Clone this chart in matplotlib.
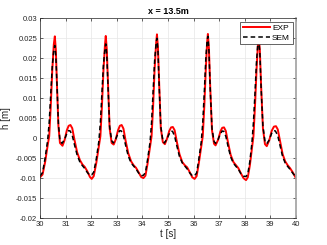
import numpy as np
import matplotlib.pyplot as plt

t_exp = [30.00, 30.10, 30.20, 30.30, 30.36, 30.42, 30.48, 30.54, 30.58, 30.62, 30.66, 30.72, 30.78, 30.88, 30.96,
         31.05, 31.12, 31.19, 31.26, 31.35, 31.45, 31.56, 31.66, 31.75, 31.85, 31.95,
         32.02, 32.10, 32.20, 32.30, 32.36, 32.42, 32.48, 32.54, 32.57, 32.61, 32.66, 32.72, 32.80, 32.88, 32.96,
         33.05, 33.12, 33.19, 33.26, 33.35, 33.45, 33.56, 33.66, 33.75, 33.85, 33.95,
         34.04, 34.12, 34.20, 34.30, 34.36, 34.42, 34.48, 34.54, 34.57, 34.61, 34.66, 34.72, 34.80, 34.88, 34.96,
         35.05, 35.12, 35.19, 35.26, 35.35, 35.45, 35.56, 35.66, 35.75, 35.85, 35.95,
         36.04, 36.12, 36.20, 36.30, 36.36, 36.42, 36.48, 36.53, 36.56, 36.60, 36.65, 36.72, 36.80, 36.86, 36.96,
         37.05, 37.12, 37.19, 37.26, 37.35, 37.45, 37.56, 37.66, 37.75, 37.85, 37.95,
         38.05, 38.12, 38.20, 38.28, 38.34, 38.40, 38.46, 38.51, 38.55, 38.59, 38.64, 38.71, 38.79, 38.86, 38.96,
         39.05, 39.14, 39.22, 39.29, 39.38, 39.48, 39.58, 39.68, 39.77, 39.88, 40.00]
h_exp = [-0.0098, -0.0091, -0.0060, -0.0018, 0.0005, 0.0080, 0.0170, 0.0235, 0.0255, 0.0220, 0.0140, 0.0030, -0.0012, -0.0019, -0.0005,
         0.0020, 0.0031, 0.0033, 0.0025, -0.0005, -0.0035, -0.0055, -0.0066, -0.0072, -0.0083, -0.0097,
         -0.0102, -0.0095, -0.0062, -0.0020, 0.0005, 0.0080, 0.0170, 0.0235, 0.0256, 0.0222, 0.0130, 0.0025, -0.0012, -0.0016, -0.0003,
         0.0020, 0.0031, 0.0033, 0.0024, -0.0008, -0.0038, -0.0058, -0.0068, -0.0074, -0.0085, -0.0097,
         -0.0100, -0.0094, -0.0065, -0.0022, 0.0005, 0.0080, 0.0175, 0.0240, 0.0260, 0.0225, 0.0130, 0.0025, -0.0010, -0.0015, -0.0002,
         0.0018, 0.0027, 0.0028, 0.0020, -0.0010, -0.0040, -0.0060, -0.0068, -0.0073, -0.0085, -0.0098,
         -0.0102, -0.0095, -0.0065, -0.0022, 0.0005, 0.0080, 0.0175, 0.0240, 0.0261, 0.0225, 0.0130, 0.0020, -0.0014, -0.0018, -0.0004,
         0.0017, 0.0026, 0.0027, 0.0018, -0.0012, -0.0042, -0.0060, -0.0068, -0.0075, -0.0088, -0.0100,
         -0.0105, -0.0098, -0.0068, -0.0025, 0.0005, 0.0080, 0.0170, 0.0230, 0.0250, 0.0220, 0.0130, 0.0025, -0.0015, -0.0020, -0.0005,
         0.0018, 0.0029, 0.0030, 0.0022, -0.0008, -0.0040, -0.0058, -0.0068, -0.0075, -0.0086, -0.0100]

# SEM model result
t_sem = [30.00, 30.10, 30.20, 30.30, 30.36, 30.42, 30.48, 30.54, 30.58, 30.62, 30.66, 30.72, 30.78, 30.86, 30.96,
         31.05, 31.12, 31.18, 31.26, 31.35, 31.45, 31.56, 31.66, 31.75, 31.85, 31.95,
         32.02, 32.10, 32.20, 32.30, 32.36, 32.42, 32.48, 32.54, 32.57, 32.61, 32.66, 32.72, 32.80, 32.86, 32.96,
         33.05, 33.12, 33.18, 33.26, 33.35, 33.45, 33.56, 33.66, 33.75, 33.85, 33.95,
         34.04, 34.12, 34.20, 34.30, 34.36, 34.42, 34.48, 34.54, 34.57, 34.61, 34.66, 34.72, 34.80, 34.86, 34.96,
         35.05, 35.12, 35.18, 35.26, 35.35, 35.45, 35.56, 35.66, 35.75, 35.85, 35.95,
         36.04, 36.12, 36.20, 36.30, 36.36, 36.42, 36.48, 36.53, 36.56, 36.60, 36.65, 36.72, 36.80, 36.86, 36.96,
         37.05, 37.12, 37.18, 37.26, 37.35, 37.45, 37.56, 37.66, 37.75, 37.85, 37.95,
         38.05, 38.12, 38.20, 38.28, 38.34, 38.40, 38.46, 38.51, 38.55, 38.59, 38.64, 38.71, 38.79, 38.86, 38.96,
         39.05, 39.14, 39.20, 39.29, 39.38, 39.48, 39.58, 39.68, 39.77, 39.88, 40.00]
h_sem = [-0.0095, -0.0086, -0.0050, -0.0005, 0.0040, 0.0110, 0.0180, 0.0222, 0.0232, 0.0205, 0.0140, 0.0035, -0.0005, -0.0013, -0.0003,
         0.0012, 0.0019, 0.0018, 0.0007, -0.0017, -0.0042, -0.0060, -0.0069, -0.0076, -0.0086, -0.0093,
         -0.0092, -0.0085, -0.0052, -0.0008, 0.0040, 0.0112, 0.0185, 0.0225, 0.0236, 0.0208, 0.0125, 0.0030, -0.0006, -0.0012, -0.0002,
         0.0012, 0.0019, 0.0018, 0.0006, -0.0019, -0.0045, -0.0062, -0.0070, -0.0077, -0.0087, -0.0094,
         -0.0093, -0.0086, -0.0055, -0.0010, 0.0040, 0.0115, 0.0195, 0.0240, 0.0250, 0.0218, 0.0125, 0.0030, -0.0006, -0.0012, -0.0002,
         0.0011, 0.0018, 0.0017, 0.0005, -0.0020, -0.0046, -0.0062, -0.0070, -0.0077, -0.0087, -0.0094,
         -0.0094, -0.0087, -0.0055, -0.0010, 0.0040, 0.0115, 0.0200, 0.0245, 0.0255, 0.0220, 0.0125, 0.0025, -0.0008, -0.0013, -0.0003,
         0.0011, 0.0018, 0.0017, 0.0005, -0.0021, -0.0047, -0.0063, -0.0071, -0.0078, -0.0089, -0.0095,
         -0.0096, -0.0089, -0.0058, -0.0012, 0.0040, 0.0112, 0.0192, 0.0235, 0.0245, 0.0215, 0.0125, 0.0030, -0.0008, -0.0014, -0.0004,
         0.0012, 0.0019, 0.0018, 0.0006, -0.0019, -0.0046, -0.0062, -0.0071, -0.0078, -0.0088, -0.0097]

x_ticks = np.arange(30, 41, 1)
y_ticks = np.arange(-0.02, 0.0301, 0.005)
y_labels = ['-0.02', '-0.015', '-0.01', '-0.005', '0', '0.005', '0.01', '0.015', '0.02', '0.025', '0.03']

plt.rcParams['font.family'] = ['Liberation Sans', 'DejaVu Sans']

fig = plt.figure(figsize=(3.27, 2.45), dpi=100)
ax = fig.add_axes([0.1223, 0.110, 0.7827, 0.815])

ax.plot(t_exp, h_exp, color='#ff0000', linewidth=1.4, label='EXP')
ax.plot(t_sem, h_sem, color='black', linewidth=1.1, linestyle=(0, (3, 2)), label='SEM')

ax.set_xlim(30, 40)
ax.set_ylim(-0.02, 0.03)
ax.set_xticks(x_ticks)
ax.set_yticks(y_ticks)
ax.set_yticklabels(y_labels)
ax.tick_params(labelsize=5.5, colors='#262626', length=2.5, width=0.5, direction='in', top=True, right=True, pad=2)
ax.grid(True, color='#e6e6e6', linewidth=0.5)
ax.set_axisbelow(True)
for s in ax.spines.values():
    s.set_color('#262626')
    s.set_linewidth(0.5)
ax.spines['right'].set_color('#a0a0a0')
ax.spines['right'].set_linewidth(1.2)

ax.set_xlabel('t [s]', fontsize=7, color='#262626', labelpad=1)
ax.set_ylabel('h [m]', fontsize=7, color='#262626')
ax.yaxis.set_label_coords(-0.115, 0.5)
ax.set_title('x = 13.5m', fontsize=6.5, fontweight='bold', pad=3)

leg = ax.legend(loc='upper right', fontsize=6, fancybox=False, framealpha=1, edgecolor='#262626',
                borderpad=0.3, handlelength=3.2, handletextpad=0.3, labelspacing=0.2, borderaxespad=0.4)
leg.get_frame().set_linewidth(0.5)

fig.savefig('out.png', dpi=100)
